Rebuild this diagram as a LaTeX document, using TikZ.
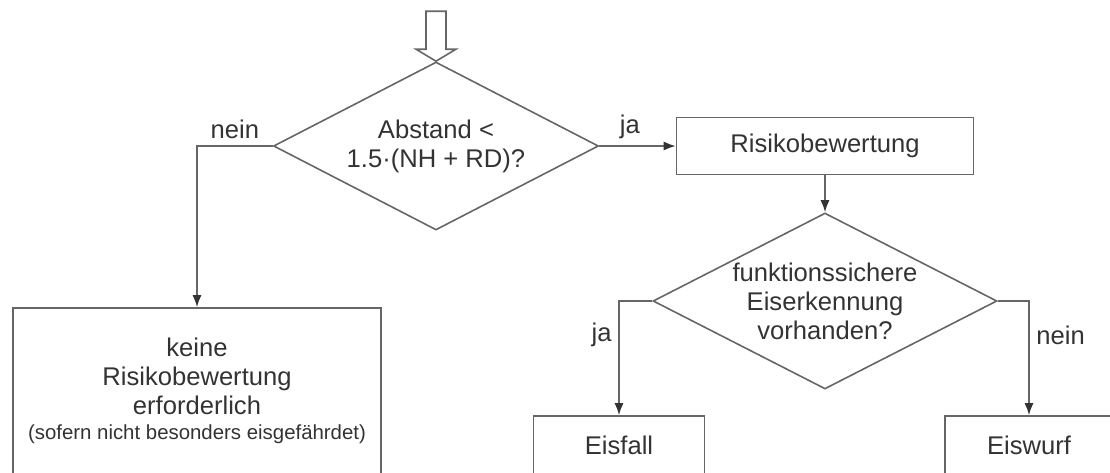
\documentclass[tikz,border=0pt]{standalone}
\usepackage{fontspec}
\setmainfont{Liberation Sans}
\usepackage{tikz}
\usetikzlibrary{shapes.geometric, arrows, arrows.meta, positioning}
\definecolor{linegray}{HTML}{666666}
\definecolor{textgray}{HTML}{333333}
\tikzstyle{decision} = [diamond, draw=linegray, line width=0.8pt, text=textgray, align=center, inner sep=0pt, aspect=2]
\tikzstyle{block} = [rectangle, draw=linegray, line width=0.8pt, text=textgray, align=center]
\tikzstyle{hollow} = [draw=linegray, fill=white, line width=0.8pt]
\tikzstyle{line} = [draw=linegray, line width=0.8pt, -{Latex[length=6pt, width=4.5pt, color=textgray]}]
\tikzstyle{answer} = [text=textgray]

\begin{document}
\begin{tikzpicture}[node distance = 2cm, font=\fontsize{12.8}{14.5}\selectfont]
		\clip (-218pt,-163pt) rectangle (337pt,73pt);
		\node (d1) [decision, minimum width=162.5pt, minimum height=84pt] {Abstand <\\1.5·(NH + RD)?};
		\node (risk) [block, right of=d1, node distance=194.5pt, minimum width=148.5pt, minimum height=28.5pt] {Risikobewertung};
		\node (d2) [decision, below of=risk, node distance=77.5pt, minimum width=172pt, minimum height=88pt] {funktionssichere\\Eiserkennung\\vorhanden?};
		\node (nokbox) [block, below of=d1, node distance=122.5pt, xshift=-119.5pt, minimum width=184pt, minimum height=83pt] {keine\\Risikobewertung\\erforderlich\\[-2pt]{\fontsize{10.2}{12}\selectfont (sofern nicht besonders eisgefährdet)}};
		\node (eisfall) [block, below of=d2, node distance=72.25pt, xshift=-103pt, minimum width=85.5pt, minimum height=29.5pt] {Eisfall};
		\node (eiswurf) [block, below of=d2, node distance=72.25pt, xshift=102pt, minimum width=84pt, minimum height=29.5pt] {Eiswurf};

		% Entry arrow
		\draw [hollow] (d1.north) -- ++(-10pt,6pt) -- ++(5pt,0) -- ++(0,19pt) -- ++(10pt,0) -- ++(0,-19pt) -- ++(5pt,0) -- cycle;

		% Draw edges
		\path [line] (d1.east) -- node (ja1) [answer, pos=0.4, above] {ja} (risk.west);
		\path [line] (d1.west) -| node (nein1) [answer, pos=0.25, above] {nein} (nokbox.north);
		\path [line] (risk.south) -- (d2.north);
		\path [line] (d2.west) -| node (ja2) [answer, pos=0.65, left] {ja} (eisfall.north);
		\path [line] (d2.east) -| node (nein2) [answer, pos=0.65, right] {nein} (eiswurf.north);

\end{tikzpicture}
\end{document}
